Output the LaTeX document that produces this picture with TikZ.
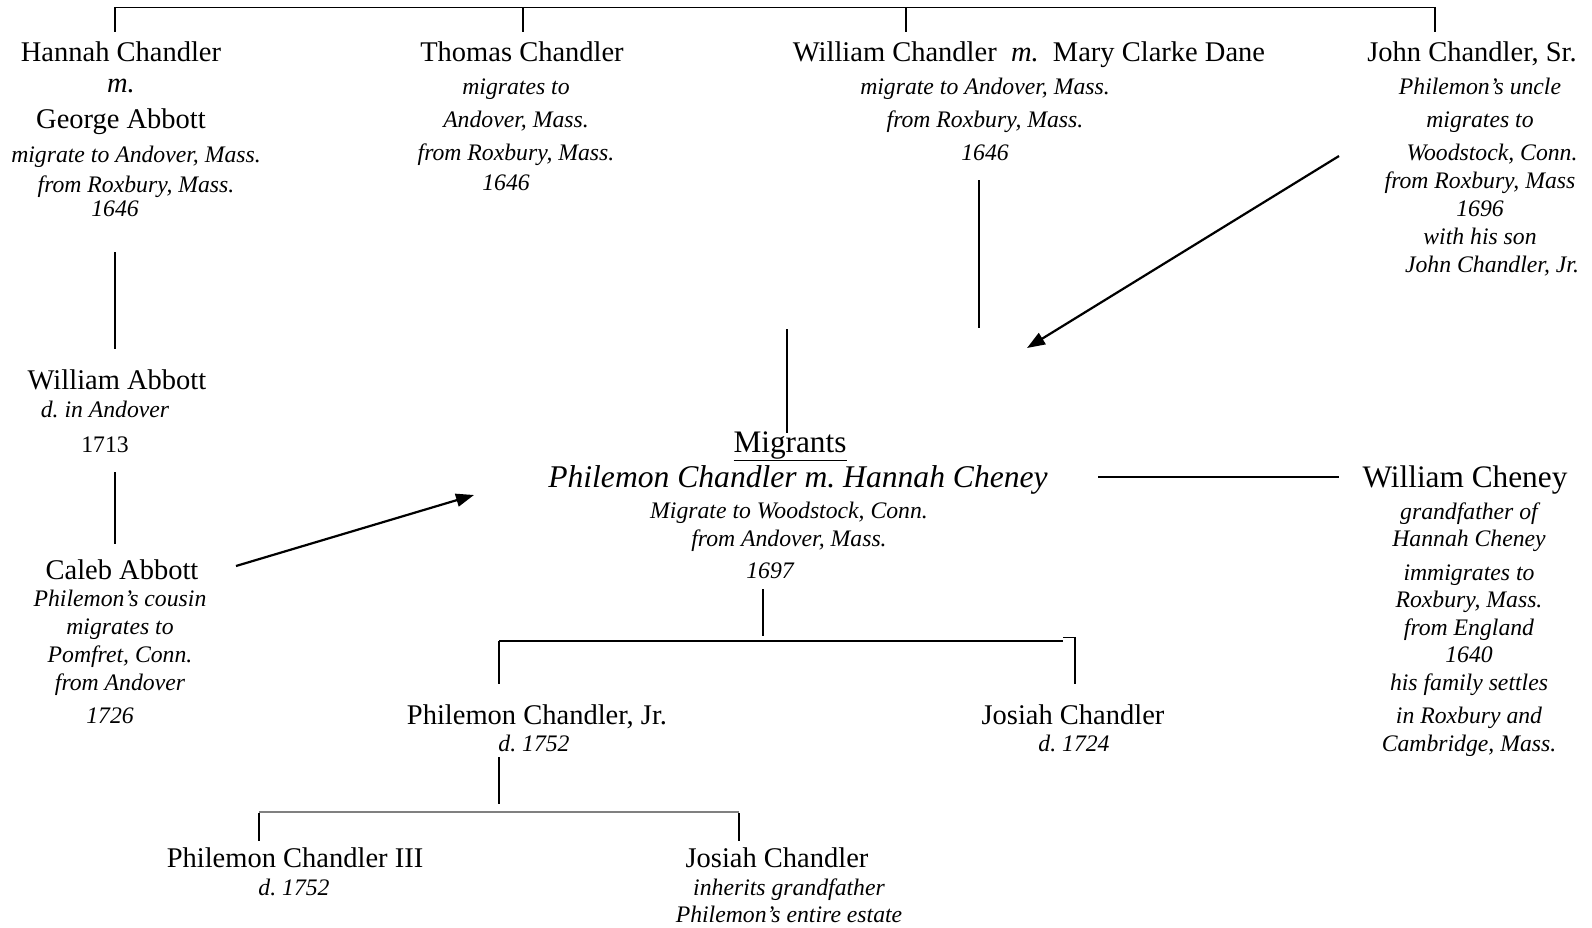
\documentclass[tikz,border=0pt]{standalone}
\usepackage{fontspec}
\setmainfont{Liberation Serif}
\frenchspacing
\usetikzlibrary{arrows.meta}
\definecolor{bargray}{RGB}{128,128,128}
\tikzset{
  person/.style={inner sep=0pt,anchor=base,align=center,font=\fontsize{28.5}{33}\selectfont},
  big/.style={inner sep=0pt,anchor=base,align=center,font=\fontsize{31.3}{36}\selectfont},
  note/.style={inner sep=0pt,anchor=base,align=center,font=\fontsize{23.7}{28}\selectfont\itshape},
  link/.style={line width=1.4pt},
  thin/.style={line width=1pt},
  arr/.style={line width=2.2pt,-{Triangle[length=18pt,width=13pt]}},
}
\begin{document}
\begin{tikzpicture}[x=1pt,y=-1pt,line cap=butt]
    \useasboundingbox (0,0) rectangle (1592,927);
    % first generation (multi-line nodes sit on their last baseline)
    \node[person,font=\fontsize{28.5}{31}\selectfont] (hannah) at (121,128) {Hannah Chandler\\\textit{m.}\\[5pt]George Abbott};
    \node[note,font=\fontsize{23.7}{30}\selectfont\itshape] (hannahnote) at (136,216) {migrate to Andover, Mass.\\from Roxbury, Mass.\\[-6pt]1646\hspace*{42pt}};
    \node[person] (thomas) at (522,61) {Thomas Chandler};
    \node[note,font=\fontsize{23.7}{33}\selectfont\itshape] (thomasnote) at (516,190) {migrates to\\Andover, Mass.\\from Roxbury, Mass.\\[-3pt]1646\hspace*{20pt}};
    \node[person] (william) at (1029,61) {William Chandler~~\textit{m.}~~Mary Clarke Dane};
    \node[note,font=\fontsize{23.7}{33}\selectfont\itshape] (williamnote) at (985,160) {migrate to Andover, Mass.\\from Roxbury, Mass.\\1646};
    \node[person] (john) at (1472,61) {John Chandler, Sr.};
    \node[note] (johnnote) at (1480,272) {Philemon's uncle\\[5pt]migrates to\\[5pt]\hspace*{24pt}Woodstock, Conn.\\from Roxbury, Mass\\1696\hspace*{36pt}\\with his son\\\hspace*{24pt}John Chandler, Jr.};
    % abbott line
    \node[person] (wabbott) at (117,389) {William Abbott};
    \node[note] (wabbottnote) at (105,452) {d. in Andover\\[7pt]{\upshape 1713}};
    \node[person] (caleb) at (122,579) {Caleb Abbott};
    \node[note] (calebnote) at (120,723) {Philemon's cousin\\migrates to\\Pomfret, Conn.\\from Andover\hspace*{12pt}\\[5pt]1726\hspace*{20pt}};
    % migrants
    \node[big] (migrants) at (790,452) {\underline{Migrants}};
    \node[big,font=\fontsize{31.6}{36}\selectfont\itshape] (philemon) at (798,487) {Philemon Chandler m. Hannah Cheney};
    \node[note] (philemonnote) at (789,578) {Migrate to Woodstock, Conn.\\from Andover, Mass.\\[4pt]1697\hspace*{38pt}};
    \node[big] (cheney) at (1465,487) {William Cheney};
    \node[note,font=\fontsize{23.7}{27.5}\selectfont\itshape] (cheneynote) at (1469,751) {grandfather of\\Hannah Cheney\\[6pt]immigrates to\\Roxbury, Mass.\\from England\\1640\\his family settles\\[6pt]in Roxbury and\\Cambridge, Mass.};
    % children
    \node[person] (jr) at (537,724) {Philemon Chandler, Jr.};
    \node[note] (jrnote) at (534,751) {d. 1752};
    \node[person] (josiah) at (1073,724) {Josiah Chandler};
    \node[note] (josiahnote) at (1074,751) {d. 1724};
    % grandchildren
    \node[person] (third) at (295,867) {Philemon Chandler III};
    \node[note] (thirdnote) at (294,895) {d. 1752};
    \node[person] (josiahb) at (777,867) {Josiah Chandler};
    \node[note,font=\fontsize{23.7}{27}\selectfont\itshape] (josiahbnote) at (789,922) {inherits grandfather\\Philemon's entire estate};

    % connectors
    \coordinate (barL) at (115,7.5);
    \coordinate (barR) at (1435,7.5);
    \draw[thin] (barL) -- (barR);
    \foreach \x in {115,523,906,1435}
        \draw[link] (\x,7) -- (\x,32);
    \draw[link] (115,252) -- (115,349);
    \draw[link] (115,472) -- (115,544);
    \draw[link] (787,329) -- (787,433);
    \draw[link] (979,180) -- (979,328);
    \coordinate (calebtail) at (236,566);
    \coordinate (calebhead) at (474,495);
    \draw[arr] (calebtail) -- (calebhead);
    \coordinate (johntail) at (1339,156);
    \coordinate (johnhead) at (1027,348);
    \draw[arr] (johntail) -- (johnhead);
    \coordinate (cheneyL) at (1098,477);
    \coordinate (cheneyR) at (1339,477);
    \draw[link] (cheneyL) -- (cheneyR);
    % children bar
    \draw[link] (763,589) -- (763,636);
    \draw[link] (499,641) -- (1063,641);
    \draw[thin] (1063,637) -- (1075,637);
    \draw[link] (499,641) -- (499,684);
    \draw[link] (1075,637) -- (1075,684);
    % grandchildren bar
    \draw[link] (499,757) -- (499,804);
    \draw[line width=1.8pt,bargray] (259,812) -- (739,812);
    \draw[link] (259,813) -- (259,841);
    \draw[link] (739,813) -- (739,841);
\end{tikzpicture}
\end{document}
